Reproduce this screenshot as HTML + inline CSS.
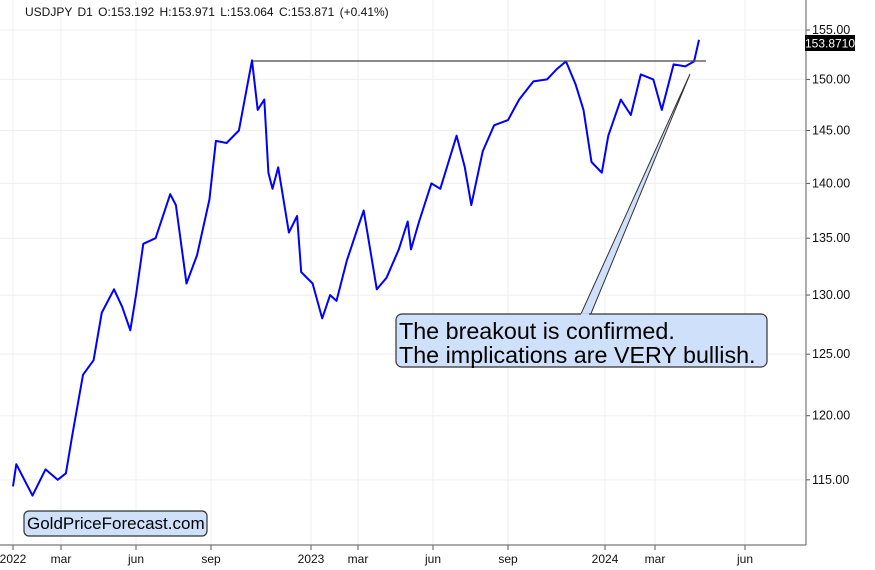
<!DOCTYPE html>
<html><head><meta charset="utf-8"><style>
body{margin:0;background:#fff;font-family:"Liberation Sans",sans-serif}
svg{display:block}
</style></head><body>
<svg id="chart" width="875" height="570" xmlns="http://www.w3.org/2000/svg" font-family="Liberation Sans, sans-serif">
<g id="grid"></g>
<g id="series"></g>
<g id="axes"></g>
<text x="25" y="16" font-size="12" fill="#111" word-spacing="2">USDJPY  D1  O:153.192  H:153.971  L:153.064  C:153.871  (+0.41%)</text>
<line x1="253" y1="61" x2="706" y2="61" stroke="#444" stroke-width="1.3"/>
<polygon points="580,316 590,316 690,74" fill="#cfe0fb" stroke="#333" stroke-width="1"/>
<g>
<rect x="396" y="314" width="371" height="53" rx="6" fill="#cfe0fb" stroke="#333" stroke-width="1.2"/>
<line x1="581" y1="314.5" x2="589" y2="314.5" stroke="#cfe0fb" stroke-width="2"/>
<text x="399" y="339" font-size="23.3" fill="#000">The breakout is confirmed.</text>
<text x="399" y="363" font-size="23.3" fill="#000">The implications are VERY bullish.</text>
</g>
<g>
<rect x="24" y="511" width="183" height="25" rx="5" fill="#cfe0fb" stroke="#333" stroke-width="1.2"/>
<text x="27" y="529" font-size="17" fill="#000">GoldPriceForecast.com</text>
</g>
<g>
<rect x="805" y="35" width="50" height="16" fill="#000"/>
<text x="830" y="47.5" font-size="12" fill="#fff" text-anchor="middle">153.8710</text>
</g>
</svg>
<script>
const dates=["2022-01-01","2022-01-05","2022-01-25","2022-02-10","2022-02-25","2022-03-07","2022-03-15","2022-03-28","2022-04-10","2022-04-20","2022-05-05","2022-05-15","2022-05-25","2022-06-01","2022-06-10","2022-06-25","2022-07-13","2022-07-20","2022-08-02","2022-08-15","2022-08-30","2022-09-07","2022-09-20","2022-10-05","2022-10-21","2022-10-28","2022-11-05","2022-11-10","2022-11-15","2022-11-22","2022-12-05","2022-12-15","2022-12-20","2023-01-03","2023-01-15","2023-01-25","2023-02-02","2023-02-15","2023-03-01","2023-03-08","2023-03-24","2023-04-05","2023-04-20","2023-05-01","2023-05-05","2023-05-15","2023-05-30","2023-06-10","2023-06-20","2023-06-30","2023-07-10","2023-07-18","2023-08-01","2023-08-15","2023-09-01","2023-09-15","2023-10-03","2023-10-20","2023-11-01","2023-11-13","2023-11-25","2023-12-05","2023-12-15","2023-12-28","2024-01-05","2024-01-20","2024-02-01","2024-02-13","2024-02-28","2024-03-08","2024-03-20","2024-04-01","2024-04-10","2024-04-15"];
const prices=[114.5,116.2,113.8,115.8,115.0,115.5,118.5,123.3,124.5,128.5,130.5,129.0,127.0,130.0,134.5,135.0,139.0,138.0,131.0,133.5,138.5,144.0,143.8,145.0,151.9,147.0,148.0,141.0,139.5,141.5,135.5,137.0,132.0,131.0,128.0,130.0,129.5,133.0,136.0,137.5,130.5,131.5,134.0,136.5,134.0,136.5,140.0,139.5,142.0,144.5,141.5,138.0,143.0,145.5,146.0,148.0,149.8,150.0,151.0,151.8,149.5,147.0,142.0,141.0,144.5,148.0,146.5,150.5,150.0,147.0,151.5,151.3,151.8,154.0];
const yTicks=[155,150,145,140,135,130,125,120,115];
const xTickLabels=["2022","mar","jun","sep","2023","mar","jun","sep","2024","mar","jun"];
const xTickDates=["2022-01-01","2022-03-01","2022-06-01","2022-09-01","2023-01-01","2023-03-01","2023-06-01","2023-09-01","2024-01-01","2024-03-01","2024-06-01"];
const anchorPx=[13,61,136,211,311,358,433,508,605,655,745];
const NS="http://www.w3.org/2000/svg";
function dnum(s){return Date.parse(s+"T00:00:00Z")/864e5;}
function xScale(s){const d=dnum(s);const a=xTickDates.map(dnum);
 if(d<=a[0])return anchorPx[0]+(d-a[0])*(anchorPx[1]-anchorPx[0])/(a[1]-a[0]);
 for(let i=0;i<a.length-1;i++){if(d<=a[i+1])return anchorPx[i]+(d-a[i])*(anchorPx[i+1]-anchorPx[i])/(a[i+1]-a[i]);}
 const n=a.length-1;return anchorPx[n]+(d-a[n])*(anchorPx[n]-anchorPx[n-1])/(a[n]-a[n-1]);}
function yScale(v){return 30+Math.log(155/v)*1507;}
function mk(t,at,parent){const e=document.createElementNS(NS,t);for(const k in at)e.setAttribute(k,at[k]);parent.appendChild(e);return e;}
const grid=document.getElementById('grid'),axes=document.getElementById('axes'),series=document.getElementById('series');
yTicks.forEach(v=>{const y=yScale(v);
 const g=mk('line',{x1:0,x2:806,y1:y,y2:y,stroke:'#efefef','stroke-width':1},grid);
 
 
 mk('line',{x1:806,x2:810,y1:y,y2:y,stroke:'#555'},axes);
 const t=mk('text',{x:812,y:y+4,'font-size':12.5,fill:'#111'},axes);t.textContent=v.toFixed(2);
 
 
});
xTickDates.forEach((s,i)=>{const x=xScale(s);
 const g=mk('line',{x1:x,x2:x,y1:0,y2:545,stroke:'#efefef','stroke-width':1},grid);
 
 
 mk('line',{x1:x,x2:x,y1:545,y2:550,stroke:'#555'},axes);
 const t=mk('text',{x:x,y:563,'font-size':12,fill:'#111','text-anchor':'middle'},axes);t.textContent=xTickLabels[i];
 
 
});
const ax1=mk('line',{x1:806,x2:806,y1:0,y2:545,stroke:'#777','stroke-width':1.2},axes);


const ax2=mk('line',{x1:0,x2:806,y1:545,y2:545,stroke:'#777','stroke-width':1.2},axes);


const pts=dates.map((d,i)=>xScale(d).toFixed(1)+','+yScale(prices[i]).toFixed(1)).join(' ');
const pl=mk('polyline',{points:pts,fill:'none',stroke:'#0000ff','stroke-width':2,'stroke-linejoin':'round'},series);


</script>
</body></html>
